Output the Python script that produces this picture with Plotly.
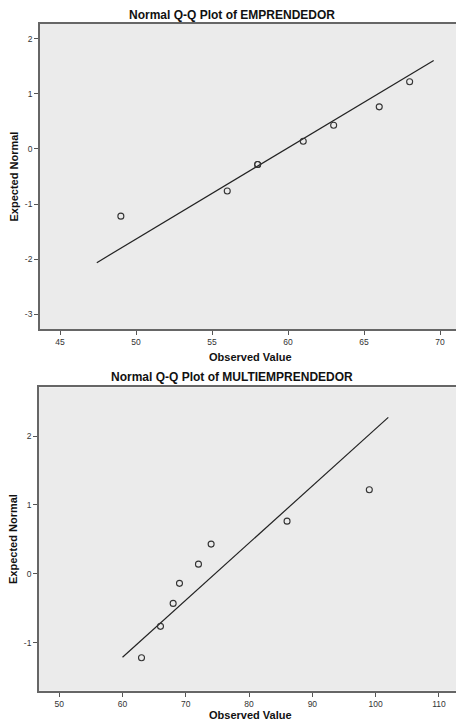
import numpy as np
import plotly.graph_objects as go
from statistics import NormalDist

# Data
emprendedor = [49, 56, 58, 58, 61, 63, 66, 68]
multiemprendedor = [63, 66, 68, 69, 72, 74, 86, 99]
titles = ["Normal Q-Q Plot of EMPRENDEDOR", "Normal Q-Q Plot of MULTIEMPRENDEDOR"]
x_ticks_top = [45, 50, 55, 60, 65, 70]
y_ticks_top = [-3, -2, -1, 0, 1, 2]
x_ticks_bot = [50, 60, 70, 80, 90, 100, 110]
y_ticks_bot = [-1, 0, 1, 2]

W, H = 456, 723
nd = NormalDist()
FONT = "Liberation Sans, Arial"


def qq(values):
    v = np.array(sorted(values), dtype=float)
    n = len(v)
    ranks = np.empty(n)
    i = 0
    while i < n:
        j = i
        while j + 1 < n and v[j + 1] == v[i]:
            j += 1
        ranks[i:j + 1] = (i + j) / 2 + 1
        i = j + 1
    expected = np.array([nd.inv_cdf(r / (n + 1)) for r in ranks])
    mean = v.mean()
    sd = v.std(ddof=1)
    pad = (v.max() - v.min()) / 12
    lx = np.array([v.min() - pad, v.max() + pad])
    ly = (lx - mean) / sd
    return v, expected, lx, ly


def py(y):
    return 1 - y / H


def lbl(vals):
    return [str(t).replace("\u2212", "-") for t in vals]


fig = go.Figure()
panels = [
    dict(data=emprendedor, xa="x", ya="y", xr=[43.68, 71.05], yr=[-3.27, 2.27],
         xd=[40 / W, 1], yd=[py(329), py(24)], xt=x_ticks_top, yt=y_ticks_top,
         title_y=15, xtitle_y=357),
    dict(data=multiemprendedor, xa="x2", ya="y2", xr=[46.8, 112.7], yr=[-1.70, 2.71],
         xd=[39 / W, 1], yd=[py(690.7), py(387.3)], xt=x_ticks_bot, yt=y_ticks_bot,
         title_y=377, xtitle_y=715),
]

annotations = []
for k, p in enumerate(panels):
    v, e, lx, ly = qq(p["data"])
    fig.add_trace(go.Scatter(x=lx, y=ly, mode="lines", xaxis=p["xa"], yaxis=p["ya"],
                             line=dict(color="#222222", width=1.2), showlegend=False,
                             hoverinfo="skip"))
    fig.add_trace(go.Scatter(x=v, y=e, mode="markers", xaxis=p["xa"], yaxis=p["ya"],
                             marker=dict(symbol="circle-open", size=6,
                                         color="#333333", line=dict(width=1.1)),
                             showlegend=False))
    suffix = "" if k == 0 else "2"
    common = dict(showgrid=False, zeroline=False, ticks="outside", ticklen=4,
                  tickcolor="#555555", tickwidth=1,
                  tickfont=dict(family=FONT, size=8.5, color="#333333"),
                  linecolor="#666666", linewidth=1.8, showline=True)
    fig.update_layout(**{
        "xaxis" + suffix: dict(range=p["xr"], domain=p["xd"], tickvals=p["xt"],
                               ticktext=lbl(p["xt"]),
                               anchor="y" + suffix, mirror=True, **common),
        "yaxis" + suffix: dict(range=p["yr"], domain=p["yd"], tickvals=p["yt"],
                               ticktext=lbl(p["yt"]),
                               anchor="x" + suffix, **common),
    })
    annotations.append(dict(text="<b>" + titles[k] + "</b>", xref="paper", yref="paper",
                            x=232 / W, y=py(p["title_y"]), xanchor="center", yanchor="middle",
                            showarrow=False,
                            font=dict(family=FONT, size=12, color="#111111")))
    annotations.append(dict(text="<b>Observed Value</b>", xref="paper", yref="paper",
                            x=250 / W, y=py(p["xtitle_y"]), xanchor="center", yanchor="middle",
                            showarrow=False,
                            font=dict(family=FONT, size=11, color="#111111")))
    annotations.append(dict(text="<b>Expected Normal</b>", xref="paper", yref="paper",
                            x=13 / W, y=(p["yd"][0] + p["yd"][1]) / 2,
                            xanchor="center", yanchor="middle", textangle=-90,
                            showarrow=False,
                            font=dict(family=FONT, size=11, color="#111111")))

fig.update_layout(width=W, height=H, margin=dict(l=0, r=0, t=0, b=0),
                  paper_bgcolor="white", plot_bgcolor="#EBEBEB",
                  annotations=annotations, showlegend=False)

fig.write_html("out.html", config={"displayModeBar": False},
               post_script="document.body.style.margin='0';document.body.style.overflow='hidden';")
